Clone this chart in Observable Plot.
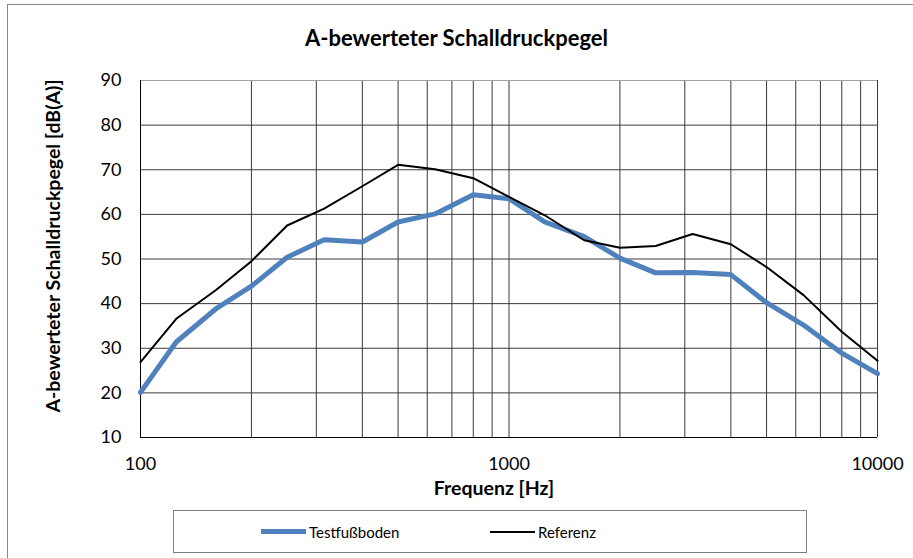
<!DOCTYPE html>
<html>
<head>
<meta charset="utf-8">
<script src="https://cdn.jsdelivr.net/npm/d3@7"></script>
<script src="https://cdn.jsdelivr.net/npm/@observablehq/plot@0.6"></script>
<style>
  html, body { margin: 0; padding: 0; background: #fff; }
  #wrap { position: relative; width: 913px; height: 558px; overflow: hidden; font-family: Lato, "Open Sans", sans-serif; color: #000; }
  #wrap svg { position: absolute; left: 0; top: 0; }
  .border { position: absolute; left: 7px; top: 4px; width: 1000px; height: 1000px; border: 1px solid #888; box-sizing: border-box; }
  .title { position: absolute; left: 0; width: 913px; top: 37px; transform: translateY(-50%); text-align: center; font-weight: bold; font-size: 22px; }
  .ylab { position: absolute; left: 52px; top: 246px; transform: translate(-50%, -50%) rotate(-90deg); white-space: nowrap; font-weight: bold; font-size: 19.5px; }
  .xlab { position: absolute; left: 494px; top: 487px; transform: translate(-50%, -50%); white-space: nowrap; font-weight: bold; font-size: 19.5px; }
  .legend { position: absolute; left: 173px; top: 510px; width: 634px; height: 43px; border: 1px solid #7f7f7f; box-sizing: border-box; }
  .item { position: absolute; top: 50%; transform: translateY(-50%); display: flex; align-items: center; font-size: 15px; white-space: nowrap; }
  .swatch { display: inline-block; width: 45px; margin-right: 3px; }
</style>
</head>
<body>
<div id="wrap"></div>
<script>
const freqs = [100,125,160,200,250,315,400,500,630,800,1000,1250,1600,2000,2500,3150,4000,5000,6300,8000,10000];
const testValues = [20.1,31.4,38.8,43.9,50.4,54.3,53.8,58.3,60.1,64.4,63.5,58.3,55.0,50.2,46.9,47.0,46.5,40.2,35.2,28.9,24.3];
const refValues = [26.9,36.6,43.0,49.5,57.5,61.3,66.3,71.1,70.1,68.1,63.9,59.8,54.2,52.5,52.9,55.6,53.3,48.2,41.9,33.7,27.2];
const seriesNames = ["Testfußboden", "Referenz"];
const seriesColors = ["#4F81BD", "#000000"];
const xTicks = [100, 1000, 10000];
const xGrid = [100,200,300,400,500,600,700,800,900,1000,2000,3000,4000,5000,6000,7000,8000,9000,10000];
const yTicks = [10,20,30,40,50,60,70,80,90];
const titleText = "A-bewerteter Schalldruckpegel";
const yLabel = "A-bewerteter Schalldruckpegel [dB(A)]";
const xLabel = "Frequenz [Hz]";

const testData = freqs.map((f, i) => ({f, v: testValues[i]}));
const refData = freqs.map((f, i) => ({f, v: refValues[i]}));

const chart = Plot.plot({
  width: 913,
  height: 558,
  marginLeft: 140,
  marginRight: 36,
  marginTop: 80,
  marginBottom: 121,
  style: {fontFamily: "Lato, 'Open Sans', sans-serif", fontSize: "18px", color: "#000", background: "transparent"},
  x: {type: "log", domain: [100, 10000]},
  y: {domain: [10, 90]},
  marks: [
    Plot.ruleX(xGrid, {stroke: "#3a3a3a", strokeWidth: 1}),
    Plot.ruleY(yTicks, {stroke: "#3a3a3a", strokeWidth: 1}),
    Plot.ruleY([90], {stroke: "#a0a0a0", strokeWidth: 1}),
    Plot.ruleX([100], {stroke: "#000", strokeWidth: 1}),
    Plot.ruleY([10], {stroke: "#000", strokeWidth: 1}),
    Plot.line(testData, {x: "f", y: "v", stroke: seriesColors[0], strokeWidth: 5, strokeLinejoin: "round"}),
    Plot.line(refData, {x: "f", y: "v", stroke: seriesColors[1], strokeWidth: 2, strokeLinejoin: "round"}),
    Plot.axisX(xTicks, {tickSize: 0, tickPadding: 20, tickFormat: d => String(d), label: null, fontSize: 18}),
    Plot.axisY(yTicks, {tickSize: 0, tickPadding: 19, label: null, fontSize: 18})
  ]
});

const wrap = document.getElementById("wrap");
const border = document.createElement("div"); border.className = "border"; wrap.appendChild(border);
wrap.appendChild(chart);
const t = document.createElement("div"); t.className = "title"; t.textContent = titleText; wrap.appendChild(t);
const yl = document.createElement("div"); yl.className = "ylab"; yl.textContent = yLabel; wrap.appendChild(yl);
const xl = document.createElement("div"); xl.className = "xlab"; xl.textContent = xLabel; wrap.appendChild(xl);
const lg = document.createElement("div"); lg.className = "legend"; wrap.appendChild(lg);
const itemLeft = [87, 316];
const swatchH = [5, 2];
seriesNames.forEach((name, i) => {
  const it = document.createElement("div"); it.className = "item"; it.style.left = itemLeft[i] + "px";
  const sw = document.createElement("span"); sw.className = "swatch"; sw.style.height = swatchH[i] + "px"; sw.style.background = seriesColors[i];
  it.appendChild(sw);
  const tx = document.createElement("span"); tx.textContent = name; it.appendChild(tx);
  lg.appendChild(it);
});
</script>
</body>
</html>
